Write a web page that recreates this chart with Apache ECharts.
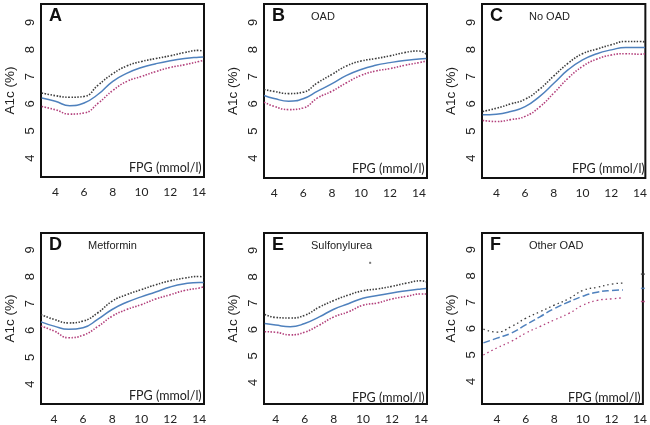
<!DOCTYPE html>
<html><head><meta charset="utf-8">
<script src="https://cdn.jsdelivr.net/npm/echarts@6/dist/echarts.min.js"></script>
<style>html,body{margin:0;padding:0;background:#fff}#c{width:650px;height:425px}</style>
</head><body><div id="c"></div>
<script>
// ---- data ----
const xTicks = [4, 6, 8, 10, 12, 14];
const yTicks = [4, 5, 6, 7, 8, 9];
const panelLetters = ['A', 'B', 'C', 'D', 'E', 'F'];
const panelNames = ['', 'OAD', 'No OAD', 'Metformin', 'Sulfonylurea', 'Other OAD'];

const xA = [3.05, 4, 5, 6, 7, 8, 9, 10, 11, 12, 13, 14, 14.3];
const upperA = [6.40, 6.30, 6.24, 6.27, 6.70, 7.11, 7.40, 7.56, 7.67, 7.77, 7.89, 7.97, 7.93];
const midA   = [6.21, 6.09, 5.93, 6.03, 6.36, 6.83, 7.13, 7.34, 7.48, 7.59, 7.67, 7.72, 7.73];
const lowerA = [5.90, 5.78, 5.62, 5.66, 6.03, 6.49, 6.83, 7.01, 7.19, 7.34, 7.44, 7.56, 7.60];

const xB = [3.31, 4, 5, 6, 7, 8, 9, 10, 11, 12, 13, 14, 14.5];
const upperB = [6.53, 6.46, 6.38, 6.43, 6.78, 7.09, 7.40, 7.58, 7.67, 7.77, 7.89, 7.95, 7.83];
const midB   = [6.31, 6.20, 6.10, 6.19, 6.47, 6.75, 7.05, 7.27, 7.42, 7.52, 7.60, 7.65, 7.67];
const lowerB = [6.06, 5.91, 5.79, 5.85, 6.22, 6.47, 6.78, 7.05, 7.21, 7.30, 7.42, 7.52, 7.58];

const xC = [3.05, 4, 5, 6, 7, 8, 9, 10, 11, 12, 13, 14, 14.35];
const upperC = [5.72, 5.84, 6.00, 6.17, 6.54, 7.03, 7.50, 7.85, 8.02, 8.18, 8.30, 8.30, 8.28];
const midC   = [5.60, 5.62, 5.72, 5.90, 6.27, 6.76, 7.26, 7.62, 7.85, 7.99, 8.08, 8.08, 8.08];
const lowerC = [5.39, 5.35, 5.42, 5.54, 5.88, 6.40, 6.95, 7.38, 7.65, 7.80, 7.85, 7.83, 7.85];

const xD = [3.1, 4, 5, 6, 7, 8, 9, 10, 11, 12, 13, 14, 14.3];
const upperD = [6.59, 6.41, 6.28, 6.35, 6.65, 7.09, 7.33, 7.52, 7.70, 7.85, 7.95, 8.01, 7.98];
const midD   = [6.32, 6.16, 6.04, 6.10, 6.41, 6.78, 7.05, 7.25, 7.43, 7.62, 7.74, 7.79, 7.79];
const lowerD = [6.16, 5.98, 5.73, 5.82, 6.14, 6.53, 6.78, 6.96, 7.17, 7.33, 7.49, 7.58, 7.62];

const xE = [3.25, 4, 5, 6, 7, 8, 9, 10, 11, 12, 13, 14, 14.35];
const upperE = [6.57, 6.46, 6.44, 6.54, 6.85, 7.10, 7.31, 7.47, 7.54, 7.64, 7.76, 7.85, 7.81];
const midE   = [6.23, 6.17, 6.11, 6.23, 6.48, 6.77, 6.98, 7.19, 7.29, 7.39, 7.47, 7.54, 7.56];
const lowerE = [5.92, 5.90, 5.80, 5.90, 6.17, 6.48, 6.67, 6.92, 7.01, 7.16, 7.26, 7.35, 7.35];
const outlierE = [[10.5, 8.53]];

const xF = [3.05, 4, 5, 6, 7, 8, 9, 10, 11, 12, 12.8];
const upperF = [5.98, 5.87, 6.08, 6.39, 6.64, 6.89, 7.13, 7.45, 7.57, 7.69, 7.73];
const midF   = [5.46, 5.64, 5.83, 6.14, 6.45, 6.76, 7.01, 7.23, 7.38, 7.45, 7.47];
const lowerF = [5.00, 5.27, 5.52, 5.83, 6.08, 6.33, 6.57, 6.89, 7.07, 7.13, 7.17];
const edgeXF = 14.2;
const edgeUpperF = 8.07, edgeMidF = 7.53, edgeLowerF = 7.03;

// ---- layout ----
const panels = [
  {x: xA, u: upperA, m: midA, l: lowerA, grid: {left: 41, top: 4, width: 163, height: 173}, xr: [3.0, 14.35], yr: [3.3, 9.68]},
  {x: xB, u: upperB, m: midB, l: lowerB, grid: {left: 264, top: 4, width: 163, height: 174}, xr: [3.3, 14.55], yr: [3.27, 9.68]},
  {x: xC, u: upperC, m: midC, l: lowerC, grid: {left: 482, top: 4, width: 165, height: 174}, xr: [3.0, 14.37], yr: [3.27, 9.68]},
  {x: xD, u: upperD, m: midD, l: lowerD, grid: {left: 41, top: 233, width: 163, height: 172}, xr: [3.1, 14.33], yr: [3.26, 9.63]},
  {x: xE, u: upperE, m: midE, l: lowerE, grid: {left: 264, top: 233, width: 163, height: 174}, xr: [3.2, 14.41], yr: [3.18, 9.66]},
  {x: xF, u: upperF, m: midF, l: lowerF, grid: {left: 482, top: 233, width: 161, height: 174}, xr: [2.95, 14.2], yr: [3.14, 9.63]}
];

const C_UP = '#3c3c3c', C_MID = '#4f81bd', C_LOW = '#b3407c';
const grids = [], xAxes = [], yAxes = [], series = [], graphics = [];
const zip = (xs, ys) => xs.map((v, i) => [v, ys[i]]);

panels.forEach((p, i) => {
  grids.push(Object.assign({show: true, borderColor: '#111', borderWidth: 2, backgroundColor: 'transparent', containLabel: false}, p.grid));
  xAxes.push({
    type: 'value', gridIndex: i, min: p.xr[0], max: p.xr[1],
    axisLine: {show: false}, axisTick: {show: false}, splitLine: {show: false},
    axisLabel: {customValues: xTicks, margin: 9, fontSize: 12, fontFamily: 'Lato', color: '#222'}
  });
  yAxes.push({
    type: 'value', gridIndex: i, min: p.yr[0], max: p.yr[1],
    name: 'A1c (%)', nameLocation: 'middle', nameGap: 24, nameRotate: 90,
    nameTextStyle: {fontSize: 13.5, fontFamily: 'Liberation Sans', color: '#222'},
    axisLine: {show: false}, axisTick: {show: false}, splitLine: {show: false},
    axisLabel: {customValues: yTicks, rotate: 90, margin: 4, fontSize: 13, fontFamily: 'Liberation Sans', color: '#222'}
  });
  const isF = i === 5;
  const common = {xAxisIndex: i, yAxisIndex: i, smooth: 0.5, showSymbol: false, silent: true};
  series.push(Object.assign({type: 'line', data: zip(p.x, p.u),
    lineStyle: {color: C_UP, width: isF ? 1.3 : 1.6, type: isF ? [1.5, 3] : [1.5, 1.5]}}, common));
  series.push(Object.assign({type: 'line', data: zip(p.x, p.m),
    lineStyle: {color: C_MID, width: 1.5, type: isF ? [7, 3] : 'solid'}}, common));
  series.push(Object.assign({type: 'line', data: zip(p.x, p.l),
    lineStyle: {color: C_LOW, width: isF ? 1.3 : 1.6, type: isF ? [1.5, 3] : [1.5, 1.5]}}, common));

  // text inside panels
  const g = p.grid;
  graphics.push({type: 'text', left: g.left + 8, top: g.top + 3,
    style: {text: panelLetters[i], font: 'bold 18px "Liberation Sans"', fill: '#111'}});
  if (panelNames[i]) {
    graphics.push({type: 'text', left: g.left + 47, top: g.top + 7,
      style: {text: panelNames[i], font: '11px "Liberation Sans"', fill: '#222'}});
  }
  graphics.push({type: 'text', left: g.left + g.width - 75, top: g.top + g.height - 16,
    style: {text: 'FPG (mmol/l)', font: '12.5px Lato', fill: '#222'}});
});

series.push({type: 'scatter', xAxisIndex: 4, yAxisIndex: 4, data: outlierE, symbol: 'rect', symbolSize: [2, 2], itemStyle: {color: '#555'}, silent: true});
series.push({type: 'scatter', xAxisIndex: 5, yAxisIndex: 5, data: [[edgeXF, edgeUpperF]], symbol: 'rect', symbolSize: [4, 1.5], itemStyle: {color: C_UP}, silent: true});
series.push({type: 'scatter', xAxisIndex: 5, yAxisIndex: 5, data: [[edgeXF, edgeMidF]], symbol: 'rect', symbolSize: [4, 1.5], itemStyle: {color: C_MID}, silent: true});
series.push({type: 'scatter', xAxisIndex: 5, yAxisIndex: 5, data: [[edgeXF, edgeLowerF]], symbol: 'rect', symbolSize: [4, 1.5], itemStyle: {color: C_LOW}, silent: true});

const chart = echarts.init(document.getElementById('c'), null, {renderer: 'canvas'});
chart.setOption({
  animation: false,
  backgroundColor: '#fff',
  grid: grids, xAxis: xAxes, yAxis: yAxes, series: series, graphic: graphics
});
</script></body></html>
